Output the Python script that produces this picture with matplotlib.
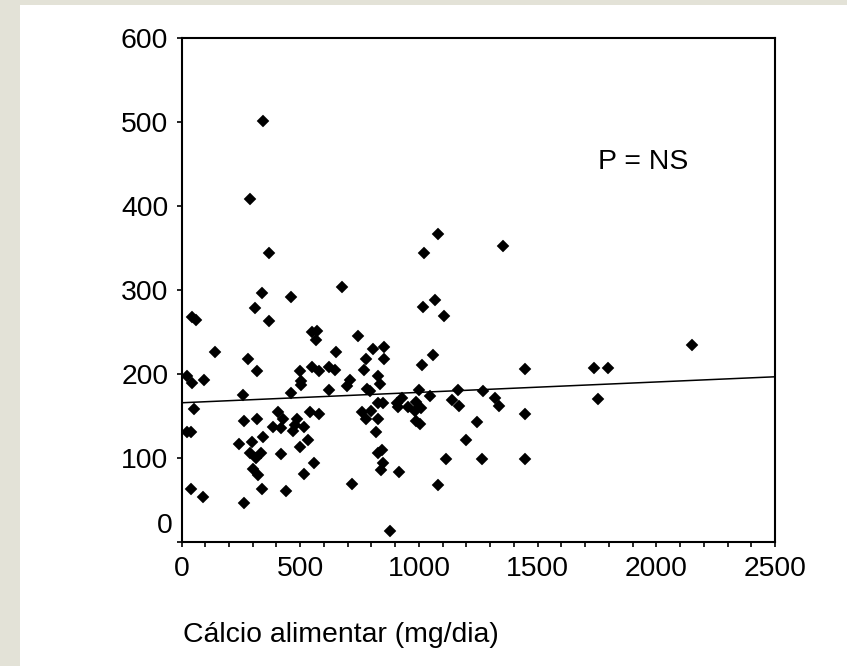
import matplotlib
matplotlib.use('Agg')
import numpy as np
from matplotlib import pyplot as plt, rc
from matplotlib.patches import Rectangle
from matplotlib.ticker import MultipleLocator

rc('font', family=['Liberation Sans', 'DejaVu Sans'], size=20.4)

# calcio alimentar (mg/dia) vs. y value
calcio = [141, 281, 317, 24, 46, 96, 499, 503, 503, 258, 461, 54, 405, 265, 317, 426,
          387, 419, 485, 478, 471, 518, 24, 40, 244, 296, 345, 289, 312, 334, 419, 499,
          300, 324, 516, 39, 92, 265, 340, 440,
          551, 570, 565, 745, 805, 854, 854, 776, 652, 1012, 548, 579, 621, 647, 769, 829,
          836, 711, 696, 623, 783, 794, 1000, 826, 850, 907, 928, 911, 953, 987, 984, 1009,
          987, 1005, 541, 579, 759, 798, 776, 826, 819, 534, 829, 843, 847, 840, 916, 558,
          717, 878,
          1061, 1447, 1047, 1163, 1271, 1141, 1170, 1321, 1339, 1243, 1198, 1447, 1113,
          1264, 1447, 1082,
          1739, 1798, 1753, 2149, 1353,
          345, 289, 369, 338, 461, 675, 310, 369, 46, 60,
          1082, 1022, 1068, 1019, 1106]
valor = [226, 218, 203, 197, 189, 193, 203, 191, 187, 175, 177, 158, 154, 144, 146, 146,
         137, 135, 146, 139, 132, 137, 131, 131, 116, 119, 125, 106, 100, 106, 104, 113,
         86, 79, 81, 63, 53, 46, 63, 60,
         250, 251, 240, 245, 230, 232, 218, 218, 226, 210, 208, 203, 208, 205, 205, 198,
         188, 193, 185, 181, 182, 179, 181, 165, 165, 165, 171, 161, 160, 167, 156, 159,
         144, 140, 155, 152, 155, 156, 146, 146, 131, 121, 106, 109, 94, 85, 83, 94,
         69, 12,
         222, 206, 173, 181, 179, 169, 162, 171, 162, 142, 121, 152, 98,
         98, 98, 67,
         207, 207, 170, 234, 352,
         501, 408, 344, 297, 292, 303, 279, 263, 268, 264,
         367, 344, 288, 280, 269]

# fitted line end points
reta_x = [0, 2500]
reta_y = [165.5, 196.5]

fig = plt.figure(figsize=(8.47, 6.66), dpi=100)
fig.patch.set_facecolor('#e3e2d7')
fig.patches.append(Rectangle((20 / 847, 0), 1, 1 - 5 / 666, transform=fig.transFigure,
                             facecolor='white', edgecolor='none', zorder=-1))

ax = fig.add_axes([0.2143, 0.1869, 0.7007, 0.7553])
ax.plot(calcio, valor, 'D', ms=6, color='black', mec='black', mew=0.3)
ax.plot(reta_x, reta_y, color='black', linewidth=1.1)

ax.set_xlim(0, 2500)
ax.set_ylim(0, 600)
ax.xaxis.set_major_locator(MultipleLocator(500))
ax.xaxis.set_minor_locator(MultipleLocator(100))
ax.set_yticks(range(0, 700, 100))
ax.set_yticklabels([''] + [str(v) for v in range(100, 700, 100)])
for s in ax.spines.values():
  s.set_linewidth(1.5)
ax.tick_params(axis='both', which='both', direction='out', width=1.2, length=3.5)
ax.tick_params(axis='x', pad=7)
ax.tick_params(axis='y', pad=6)

# the "0" label sits higher than its tick in the original
ax.annotate('0', xy=(0, 0), xycoords=('axes fraction', 'data'), xytext=(-9, 16),
            textcoords='offset pixels', ha='right', va='center')

ax.text(1754, 453, 'P = NS', ha='left', va='center')
fig.text(183 / 847, 1 - 635 / 666, 'Cálcio alimentar (mg/dia)', ha='left', va='center')

fig.savefig('out.png', dpi=100)
